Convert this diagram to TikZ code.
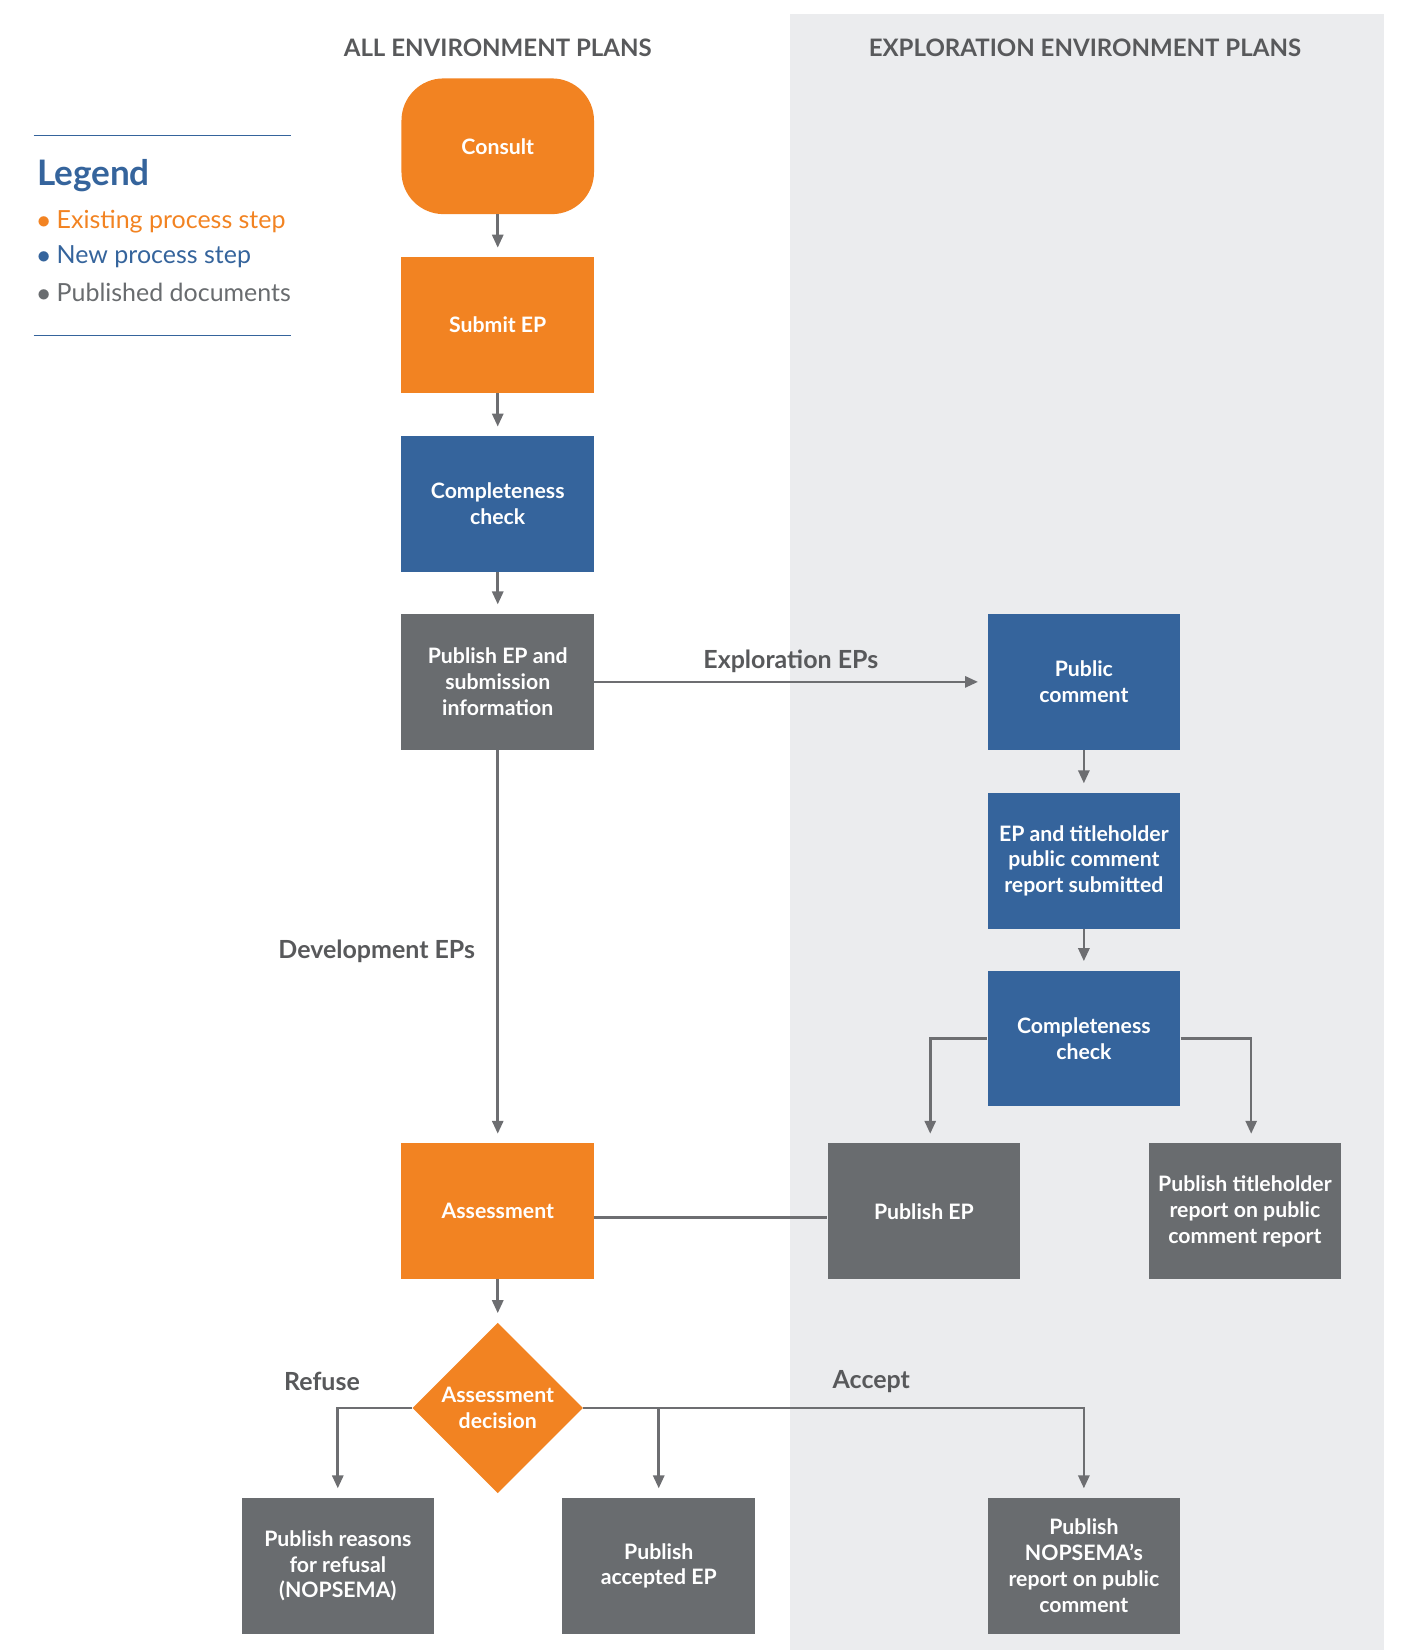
\documentclass[tikz,border=0pt]{standalone}
\usepackage{fontspec}
\setmainfont{Lato}
\usetikzlibrary{positioning,arrows.meta,shapes.geometric}
\definecolor{eporange}{HTML}{F28322}
\definecolor{epblue}{HTML}{35649C}
\definecolor{epgrey}{HTML}{696C6F}
\definecolor{lineg}{HTML}{6D6E71}
\definecolor{panel}{HTML}{EBECEE}
\definecolor{headg}{HTML}{58595B}
\begin{document}
\begin{tikzpicture}[x=0.02cm, y=-0.02cm,
  box/.style={minimum width=3.66cm, minimum height=2.58cm, align=center,
    text=white, font=\bfseries\fontsize{11.5}{14}\selectfont, inner sep=2pt},
  orange/.style={box, fill=eporange},
  blue/.style={box, fill=epblue},
  grey/.style={box, fill=epgrey},
  arr/.style={-{Triangle[length=7pt,width=6pt]}, lineg, line width=1.4pt, shorten >=5pt},
  con/.style={lineg, line width=1.4pt},
  head/.style={text=headg, font=\bfseries\fontsize{13}{15}\selectfont},
  lbl/.style={text=headg, font=\bfseries\fontsize{13.5}{16}\selectfont}
]
  \useasboundingbox (0,0) rectangle (1347,1568);
  \fill[panel] (751,13) rectangle (1315,1568);
  \node[head] (hall) at (473,45) {ALL ENVIRONMENT PLANS};
  \node[head] (hexp) at (1031,45) {EXPLORATION ENVIRONMENT PLANS};
  % legend
  \draw[epblue, line width=0.8pt] (32,129) -- (277,129);
  \draw[epblue, line width=0.8pt] (32,319) -- (277,319);
  \node[anchor=west, text=epblue, font=\bfseries\fontsize{19}{22}\selectfont] (leg) at (29,167) {Legend};
  \node[anchor=west, text=eporange, font=\fontsize{13.5}{16}\selectfont] (l1) at (29,211) {$\bullet$ Existing process step};
  \node[anchor=west, text=epblue, font=\fontsize{13.5}{16}\selectfont] (l2) at (29,244) {$\bullet$ New process step};
  \node[anchor=west, text=epgrey, font=\fontsize{13.5}{16}\selectfont] (l3) at (29,278) {$\bullet$ Published documents};
  % left column
  \node[orange, rounded corners=0.8cm] (consult) at (473,139) {Consult};
  \node[orange] (submit) at (473,309) {Submit EP};
  \node[blue] (check) at (473,479) {Completeness\\check};
  \node[grey] (pubinfo) at (473,648) {Publish EP and\\submission\\information};
  \node[orange] (assess) at (473,1151) {Assessment};
  \node[diamond, fill=eporange, minimum size=3.24cm, inner sep=0pt, align=center,
    text=white, font=\bfseries\fontsize{11.5}{14}\selectfont] (decision) at (473,1338) {Assessment\\decision};
  \node[grey] (refusal) at (321,1488) {Publish reasons\\for refusal\\(NOPSEMA)};
  \node[grey] (accepted) at (626,1488) {Publish\\accepted EP};
  % right column
  \node[blue] (comment) at (1030,648) {Public\\comment};
  \node[blue] (report) at (1030,818) {EP and titleholder\\public comment\\report submitted};
  \node[blue] (check2) at (1030,987) {Completeness\\check};
  \node[grey] (pubep) at (878,1151) {Publish EP};
  \node[grey] (pubtitle) at (1183,1151) {Publish titleholder\\report on public\\comment report};
  \node[grey] (nopsema) at (1030,1488) {Publish\\NOPSEMA's\\report on public\\comment};
  % connectors
  \draw[arr] (consult) -- (submit);
  \draw[arr] (submit) -- (check);
  \draw[arr] (check) -- (pubinfo);
  \draw[arr] (pubinfo) -- node[lbl, above=1pt] {Exploration EPs} (comment);
  \draw[arr] (pubinfo) -- (assess);
  \node[lbl] (devlbl) at (358,904) {Development EPs};
  \draw[arr] (comment) -- (report);
  \draw[arr] (report) -- (check2);
  \draw[arr] (check2.west) -| ([xshift=0.12cm]pubep.north);
  \draw[arr] (check2.east) -| ([xshift=0.12cm]pubtitle.north);
  \draw[con] ([yshift=-0.12cm]assess.east) -- ([yshift=-0.12cm]pubep.west);
  \draw[arr] (assess) -- (decision);
  \draw[arr] (decision.west) -| (refusal.north);
  \draw[arr] (decision.east) -| (nopsema.north);
  \draw[arr] (decision.east -| accepted.north) -- (accepted.north);
  \node[lbl] (refuse) at (306,1313) {Refuse};
  \node[lbl] (accept) at (828,1313) {Accept};
\end{tikzpicture}
\end{document}
